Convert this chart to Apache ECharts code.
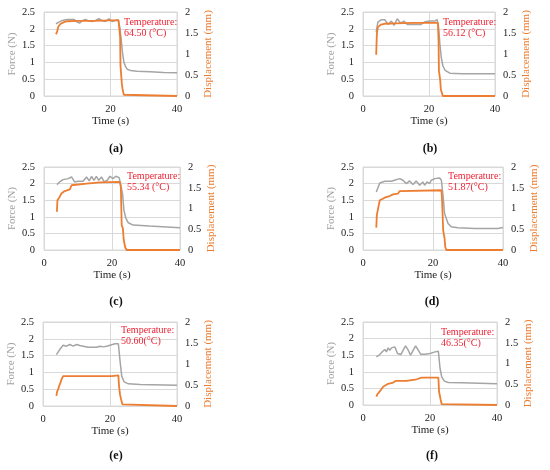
<!DOCTYPE html>
<html>
<head>
<meta charset="utf-8">
<script src="https://cdn.jsdelivr.net/npm/echarts@6/dist/echarts.min.js"></script>
<style>
html,body{margin:0;padding:0;background:#fff;}
#chart{width:550px;height:470px;}
</style>
</head>
<body>
<div id="chart"></div>
<script>
// ---- Data ----
const panelLabels = ['(a)', '(b)', '(c)', '(d)', '(e)', '(f)'];
const tempLine1 = ['Temperature:', 'Temperature:', 'Temperature:', 'Temperature:', 'Temperature:', 'Temperature:'];
const tempLine2 = ['64.50 (°C)', '56.12 (°C)', '55.34 (°C)', '51.87(°C)', '50.60(°C)', '46.35(°C)'];
const xTicks = [0, 20, 40];
const forceTicks = [0, 0.5, 1, 1.5, 2, 2.5];
const dispTicks = [0, 0.5, 1, 1.5, 2];

// (a)
const aForceT = [3.6,4.5,5.5,7,9,10,10.7,11.5,12.5,13.5,14.5,15.5,16.5,17.5,18.5,19.5,20.5,21.5,22.3,22.8,23.2,23.6,24,24.5,25,26,28,32,36,40];
const aForce  = [2.15,2.2,2.25,2.28,2.28,2.2,2.17,2.24,2.28,2.23,2.22,2.25,2.3,2.24,2.22,2.3,2.22,2.25,2.27,2.05,1.7,1.3,1.02,0.88,0.8,0.76,0.74,0.72,0.7,0.69];
const aDispT  = [3.6,3.9,4.3,5,6,7,10,15,20,22.4,22.7,22.9,23.0,23.3,23.4,23.6,23.8,24.0,24.3,40];
const aDisp   = [1.47,1.52,1.65,1.72,1.76,1.78,1.79,1.79,1.8,1.8,1.76,1.4,0.72,0.7,0.3,0.18,0.15,0.03,0,0];
// (b)
const bForceT = [4.0,4.5,5.6,6.6,7.6,8.6,9.4,10.4,11.4,12.4,13.4,14.6,17.6,18.6,20.2,21.7,22.5,22.9,23.3,23.7,24.2,24.9,26.3,30,40];
const bForce  = [1.9,2.2,2.27,2.27,2.13,2.23,2.1,2.3,2.17,2.23,2.13,2.13,2.13,2.2,2.23,2.23,2.27,2.05,1.55,1.16,0.9,0.76,0.68,0.66,0.66];
const bDispT  = [4.0,4.2,4.5,5.4,6.5,10,15,20,22.7,22.9,23.0,23.4,23.6,23.8,24.2,40];
const bDisp   = [0.98,1.48,1.64,1.7,1.72,1.73,1.74,1.74,1.74,1.3,0.61,0.37,0.15,0.1,0,0];
// (c)
const cForceT = [3.8,4.6,5.6,7.1,8.1,9.0,10,11.5,12.0,12.5,13.3,14.0,14.7,15.4,16.1,16.9,17.7,18.6,19.4,20.3,21.1,22.1,22.6,23.1,23.5,24.1,24.8,26.2,31,40];
const cForce  = [1.97,2.05,2.12,2.15,2.2,2.05,2.07,2.07,2.1,2.2,2.08,2.22,2.1,2.22,2.1,2.2,2.05,2.1,2.22,2.15,2.22,2.18,2.22,1.7,1.2,0.95,0.82,0.75,0.72,0.67];
const cDispT  = [3.8,3.95,4.6,5.1,6.1,7.6,8.1,8.5,12.5,16.4,22.3,22.6,22.85,23.2,23.45,23.9,24.3,40];
const cDisp   = [0.92,1.2,1.28,1.36,1.42,1.46,1.56,1.6,1.6,1.63,1.64,1.52,0.6,0.52,0.24,0.06,0,0];
// (d)
const dForceT = [3.8,4.8,6.2,8.1,9.0,10.5,11.4,12.4,13.3,14.3,15.2,16.2,17.1,17.6,18.3,19.0,19.5,20.5,21.9,22.4,22.9,23.3,24.3,25.2,27.1,31.9,38.5,40];
const dForce  = [1.75,2.02,2.07,2.07,2.1,2.15,2.1,2.0,2.08,1.97,2.08,1.95,2.05,1.95,2.05,2.0,2.1,2.15,2.17,2.1,1.6,1.1,0.8,0.7,0.67,0.65,0.65,0.68];
const dDispT  = [3.8,3.95,4.3,4.5,4.8,5.2,6.2,7.6,8.6,10.0,10.5,11.0,22.4,22.6,22.9,23.3,23.5,23.8,40];
const dDisp   = [0.54,0.84,0.84,1.08,1.2,1.22,1.26,1.3,1.34,1.36,1.42,1.44,1.44,1.2,0.48,0.28,0.08,0,0];
// (e)
const eForceT = [4.0,5.0,6.0,7.0,8.0,9.0,10.0,11.0,12.0,13.5,16.0,17.0,18.0,19.0,20.0,21.5,22.5,23.0,23.5,24.2,25.5,29,40];
const eForce  = [1.53,1.68,1.81,1.78,1.83,1.78,1.83,1.8,1.78,1.75,1.75,1.78,1.76,1.78,1.81,1.85,1.85,1.34,0.89,0.72,0.66,0.64,0.62];
const eDispT  = [4.0,4.2,4.5,4.8,5.2,5.5,6.0,20.5,22.5,22.7,23.0,23.3,23.7,24.0,40];
const eDisp   = [0.24,0.34,0.39,0.47,0.55,0.63,0.71,0.71,0.73,0.47,0.27,0.16,0.04,0,0];
// (f)
const fForceT = [4.0,5.0,5.7,6.5,7.0,7.5,8.0,8.5,9.5,10.3,11.3,12.0,12.7,13.5,14.2,15.0,15.7,16.5,17.2,18.5,20.0,21.5,22.5,23.0,23.5,24.3,25.5,29.5,40];
const fForce  = [1.45,1.52,1.6,1.67,1.6,1.72,1.65,1.72,1.75,1.55,1.52,1.65,1.78,1.65,1.5,1.65,1.78,1.65,1.53,1.53,1.55,1.6,1.62,1.1,0.85,0.72,0.68,0.67,0.64];
const fDispT  = [4.0,4.3,4.7,5.3,6.0,6.5,7.5,9.0,9.7,11.0,13.0,14.5,16.0,16.5,17.5,22.5,22.7,23.0,23.2,23.5,23.8,40];
const fDisp   = [0.2,0.26,0.27,0.36,0.44,0.48,0.51,0.54,0.58,0.58,0.58,0.6,0.62,0.66,0.66,0.66,0.32,0.28,0.12,0.02,0,0];

const forceTimes = [aForceT, bForceT, cForceT, dForceT, eForceT, fForceT];
const forceVals  = [aForce, bForce, cForce, dForce, eForce, fForce];
const dispTimes  = [aDispT, bDispT, cDispT, dDispT, eDispT, fDispT];
const dispVals   = [aDisp, bDisp, cDisp, dDisp, eDisp, fDisp];

// ---- Layout (pixels) ----
const layout = [
  {left: 44,  top: 12,  width: 133, height: 84},
  {left: 363, top: 12,  width: 132, height: 84},
  {left: 44,  top: 167, width: 136, height: 83},
  {left: 363, top: 167, width: 140, height: 83},
  {left: 43,  top: 322, width: 134, height: 84},
  {left: 363, top: 322, width: 134, height: 83}
];
const tempPos = [[124, 22], [443, 22], [127, 176], [448, 176], [121, 330], [441, 332]];
const labelPos = [[116, 149], [430, 149], [116, 302], [432, 302], [116, 456], [432, 456]];

const FONT = 'Liberation Serif';
const GRAY = '#A5A5A5';
const ORANGE = '#ED7D31';
const RED = '#EE2233';
const GRIDC = '#D9D9D9';

const pairs = (t, v) => t.map((x, i) => [x, v[i]]);

const grids = [], xAxes = [], yAxes = [], series = [], graphics = [];
layout.forEach((g, i) => {
  grids.push({left: g.left, top: g.top, width: g.width, height: g.height,
    show: true, borderColor: GRIDC, borderWidth: 1, containLabel: false});
  xAxes.push({type: 'value', gridIndex: i, min: xTicks[0], max: xTicks[xTicks.length - 1], interval: 20,
    name: 'Time (s)', nameLocation: 'middle', nameGap: 16,
    nameTextStyle: {fontFamily: FONT, fontSize: 11, fontWeight: 'normal', color: '#222'},
    axisLine: {show: false}, axisTick: {show: false},
    axisLabel: {fontFamily: FONT, fontSize: 10.5, color: '#222', margin: 8},
    splitLine: {show: true, lineStyle: {color: GRIDC, width: 1}}});
  yAxes.push({type: 'value', gridIndex: i, position: 'left', min: forceTicks[0], max: forceTicks[forceTicks.length - 1], interval: 0.5,
    name: 'Force (N)', nameLocation: 'middle', nameGap: 25,
    nameTextStyle: {fontFamily: FONT, fontSize: 11, fontWeight: 'normal', color: '#A0A0A0'},
    axisLine: {show: false}, axisTick: {show: false},
    axisLabel: {fontFamily: FONT, fontSize: 10.5, color: '#222', margin: 9},
    splitLine: {show: true, lineStyle: {color: GRIDC, width: 1}}});
  yAxes.push({type: 'value', gridIndex: i, position: 'right', min: dispTicks[0], max: dispTicks[dispTicks.length - 1], interval: 0.5,
    name: 'Displacement (mm)', nameLocation: 'middle', nameGap: 26,
    nameTextStyle: {fontFamily: FONT, fontSize: 11, fontWeight: 'normal', color: ORANGE},
    axisLine: {show: false}, axisTick: {show: false},
    axisLabel: {fontFamily: FONT, fontSize: 10.5, color: '#222', margin: 8},
    splitLine: {show: false}});
  series.push({type: 'line', name: 'Force', xAxisIndex: i, yAxisIndex: 2 * i,
    data: pairs(forceTimes[i], forceVals[i]), showSymbol: false, symbol: 'none',
    lineStyle: {color: GRAY, width: 1.5}, silent: true, animation: false});
  series.push({type: 'line', name: 'Displacement', xAxisIndex: i, yAxisIndex: 2 * i + 1,
    data: pairs(dispTimes[i], dispVals[i]), showSymbol: false, symbol: 'none',
    lineStyle: {color: ORANGE, width: 1.8}, silent: true, animation: false});
  graphics.push({type: 'text', x: tempPos[i][0], y: tempPos[i][1], z: 100,
    style: {text: tempLine1[i], fill: RED, fontFamily: FONT, fontSize: 10, verticalAlign: 'middle'}});
  graphics.push({type: 'text', x: tempPos[i][0], y: tempPos[i][1] + 11.3, z: 100,
    style: {text: tempLine2[i], fill: RED, fontFamily: FONT, fontSize: 10, verticalAlign: 'middle'}});
  graphics.push({type: 'text', x: labelPos[i][0], y: labelPos[i][1], z: 100,
    style: {text: panelLabels[i], fill: '#111', fontFamily: FONT, fontSize: 12, fontWeight: 'bold', align: 'center', verticalAlign: 'middle'}});
});

const chart = echarts.init(document.getElementById('chart'), null, {renderer: 'canvas'});
chart.setOption({
  animation: false,
  backgroundColor: '#ffffff',
  textStyle: {fontFamily: FONT},
  grid: grids,
  xAxis: xAxes,
  yAxis: yAxes,
  series: series,
  graphic: graphics
});
</script>
</body>
</html>
